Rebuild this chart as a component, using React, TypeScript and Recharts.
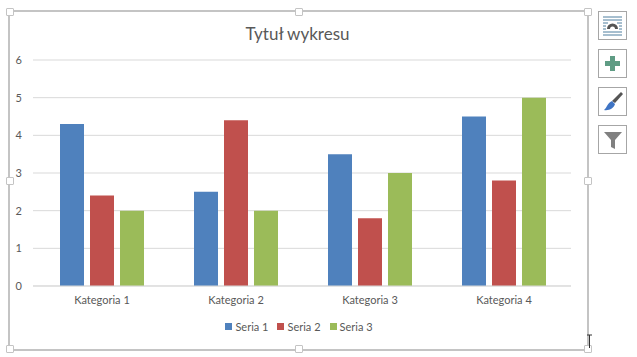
import React from "react"
import { BarChart, Bar, XAxis, YAxis, CartesianGrid, Legend } from "recharts"

const categories = ["Kategoria 1", "Kategoria 2", "Kategoria 3", "Kategoria 4"]
const seria1 = [4.3, 2.5, 3.5, 4.5]
const seria2 = [2.4, 4.4, 1.8, 2.8]
const seria3 = [2, 2, 3, 5]
const yTicks = [0, 1, 2, 3, 4, 5, 6]

const data = categories.map((name, i) => ({
    name,
    s1: seria1[i],
    s2: seria2[i],
    s3: seria3[i],
}))

const FONT = "Lato, 'Open Sans', sans-serif"
const FRAME = "#c4c4c4"

// selection handle on the chart frame
function Handle({ x, y }: { x: number; y: number }) {
    return (
        <div
            style={{
                position: "absolute",
                left: x - 3,
                top: y - 3,
                width: 6,
                height: 6,
                background: "#fff",
                border: `1px solid ${FRAME}`,
                borderRadius: 1,
            }}
        />
    )
}

function SideButton({ top, children }: { top: number; children: React.ReactNode }) {
    return (
        <div
            style={{
                position: "absolute",
                left: 598,
                top,
                width: 27,
                height: 27,
                border: "1px solid #a6a6a6",
                background: "#fff",
            }}
        >
            <svg width={27} height={27}>{children}</svg>
        </div>
    )
}

function renderLegend() {
    const items = [
        { label: "Seria 1", color: "#4f81bd" },
        { label: "Seria 2", color: "#c0504d" },
        { label: "Seria 3", color: "#9bbb59" },
    ]
    return (
        <div style={{ display: "flex", justifyContent: "center", fontFamily: FONT, fontSize: 11, color: "#595959" }}>
            {items.map((it) => (
                <div key={it.label} style={{ display: "flex", alignItems: "center", marginRight: 9 }}>
                    <span style={{ width: 7, height: 7, background: it.color, marginRight: 3 }} />
                    {it.label}
                </div>
            ))}
        </div>
    )
}

export default function App() {
    return (
        <div style={{ position: "absolute", left: 0, top: 0, width: 637, height: 357, background: "#fff", overflow: "hidden" }}>
            <div style={{ position: "absolute", left: 8, top: 10, width: 577, height: 337, border: `2px solid ${FRAME}`, borderRadius: 1 }} />
            <div style={{ position: "absolute", left: 0, top: 0 }}>
                <BarChart
                    width={637}
                    height={357}
                    data={data}
                    margin={{ top: 60, right: 66, left: 0, bottom: 28 }}
                    barGap={6}
                    barCategoryGap={25}
                >
                    <CartesianGrid stroke="#d9d9d9" vertical={false} />
                    <XAxis
                        dataKey="name"
                        tickLine={false}
                        axisLine={{ stroke: "#d9d9d9" }}
                        tick={{ fill: "#595959", fontSize: 11, fontFamily: FONT }}
                        tickMargin={4}
                        interval={0}
                        padding={{ left: 2, right: 0 }}
                    />
                    <YAxis
                        width={33}
                        domain={[0, 6]}
                        ticks={yTicks}
                        tickLine={false}
                        axisLine={false}
                        tick={{ fill: "#595959", fontSize: 11, fontFamily: FONT }}
                        tickMargin={5}
                    />
                    <Legend content={renderLegend} wrapperStyle={{ left: 0, width: 607, top: 320 }} />
                    <Bar dataKey="s1" name="Seria 1" fill="#4f81bd" isAnimationActive={false} />
                    <Bar dataKey="s2" name="Seria 2" fill="#c0504d" isAnimationActive={false} />
                    <Bar dataKey="s3" name="Seria 3" fill="#9bbb59" isAnimationActive={false} />
                </BarChart>
            </div>
            <div
                style={{
                    position: "absolute",
                    left: 0,
                    width: 595,
                    top: 23,
                    textAlign: "center",
                    fontFamily: FONT,
                    fontSize: 17,
                    color: "#595959",
                }}
            >
                Tytuł wykresu
            </div>
            <Handle x={9} y={11} />
            <Handle x={298} y={11} />
            <Handle x={587} y={11} />
            <Handle x={9} y={180} />
            <Handle x={587} y={180} />
            <Handle x={9} y={348} />
            <Handle x={298} y={348} />
            <Handle x={587} y={348} />
            <SideButton top={11}>
                <path d="M4 5H23M4 8H23M4 11H9M18 11H23M4 14H7M20 14H23M4 17H7M20 17H23M4 20H23M4 23H23" stroke="#4f7f9f" strokeWidth={1} />
                <path d="M8 17A5.5 5.5 0 0 1 19 17H16A2.5 2.5 0 0 0 11 17Z" fill="#555" />
            </SideButton>
            <SideButton top={49}>
                <path d="M11 6H16V11H21V16H16V21H11V16H6V11H11Z" fill="#5f9c84" />
            </SideButton>
            <SideButton top={87}>
                <path d="M22 4L24 6L16 15L13 13Z" fill="#555" />
                <path d="M13 13L16 16C15 20 10 23 5 22C8 20 8 15 13 13Z" fill="#3f74c4" />
            </SideButton>
            <SideButton top={125}>
                <path d="M5 6H23L16 14V23L12 21V14Z" fill="#808080" />
            </SideButton>
            <svg style={{ position: "absolute", left: 586, top: 334 }} width={8} height={16}>
                <path d="M1 1H6M3.5 1V14" stroke="#333" strokeWidth={1} />
            </svg>
        </div>
    )
}
